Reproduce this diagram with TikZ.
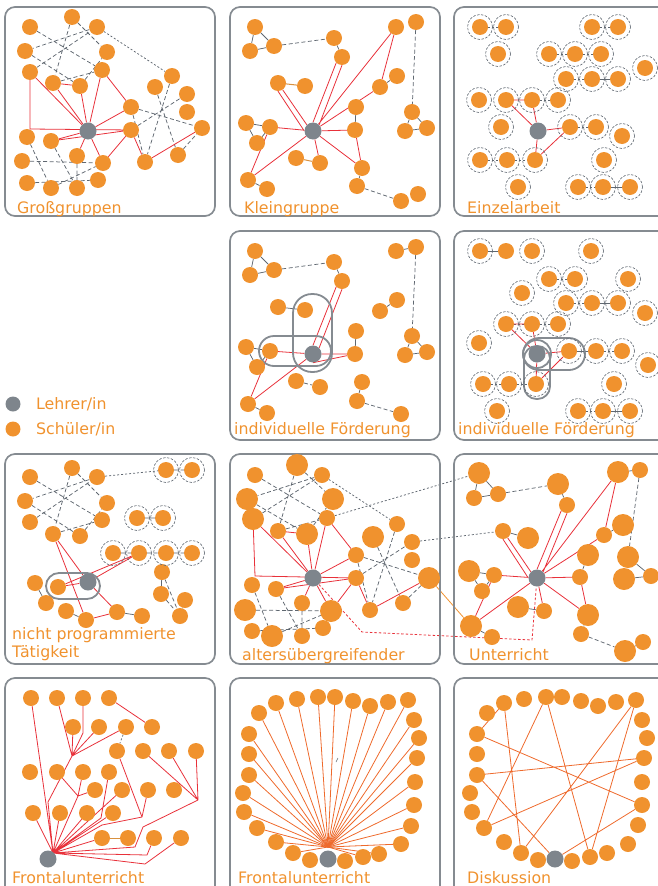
\documentclass[tikz,border=0pt]{standalone}
\usepackage{fontspec}
\setmainfont{DejaVu Sans}
\usetikzlibrary{backgrounds}
\definecolor{orng}{HTML}{F0922E}
\definecolor{tgray}{HTML}{7E858C}
\definecolor{fgray}{HTML}{858B91}
\definecolor{lred}{HTML}{E8313A}
\definecolor{dgray}{HTML}{5F6770}
\definecolor{olc}{HTML}{EE6A2C}
\definecolor{brn}{HTML}{D9913F}
% line sets that repeat
\newcommand\GGtop[1]{\draw[gd] (#1a1)--(#1a7) (#1a3)--(#1a4) (#1a2)--(#1a8) (#1a2)--(#1a5) (#1a6)--(#1a3) (#1a8)--(#1a7) (#1a9)--(#1a5) (#1a4)--(#1a9);}
\newcommand\GGright[1]{\draw[gd] (#1b1)--(#1b7) (#1b2)--(#1b6) (#1c1)--(#1b5) (#1c2)--(#1b3) (#1c1)--(#1b7) (#1b6)--(#1b5); \draw[gdot] (#1a3)--(#1b1);}
\newcommand\GGbot[1]{\draw[gd] (#1d1)--(#1d7) (#1d2)--(#1d8) (#1d3)--(#1d5) (#1d6)--(#1d9) (#1d7)--(#1d5) (#1d4)--(#1d8);}
\newcommand\GGred[1]{\draw[rl] (#1a6)--(#1k1)--(#1c2) (#1a6)--(#1T) (#1a8)--(#1a9) (#1a8)--(#1T) (#1a9)--(#1T) (#1a7)--(#1T) (#1a7)--(#1c1) (#1c1)--(#1T) (#1T)--(#1d5) (#1c2)--(#1d5) (#1T)--(#1d4) (#1d2)--(#1c2) (#1T)--(#1d2) (#1c2)--(#1b7) (#1b7)--(#1b5);}
\newcommand\KGgray[1]{\draw[gs] (#1g1)--(#1g2) (#1g2)--(#1g3) (#1g1)--(#1g3) (#1h1)--(#1h2) (#1j1)--(#1j2) (#1l1)--(#1l2) (#1m1)--(#1m2) (#1m2)--(#1m3) (#1m1)--(#1m3) (#1n1)--(#1n2) (#1n2)--(#1n3) (#1n1)--(#1n3) (#1p1)--(#1p2) (#1q1)--(#1q2);
 \draw[gd] (#1g3)--(#1h1) (#1i2)--(#1n1) (#1p2)--(#1r1);}
\newcommand\KGred[1]{\draw[rl] (#1T.north)--(#1h2.south west) (#1T.north east)--(#1h2.south) (#1T)--(#1i1) (#1T)--(#1j2) (#1j2)--(#1i1) (#1T.north west)--(#1k1) (#1T.west)--(#1k1.south) (#1T)--(#1m2) (#1m2)--(#1q1) (#1T)--(#1q1) (#1T)--(#1l2) (#1l2)--(#1p1) (#1T)--(#1p1) (#1T)--(#1o2);}
\begin{document}
\begin{tikzpicture}[x=1pt,y=-1pt,
  stu/.style={circle,fill=orng,inner sep=0pt,minimum size=16pt},
  big/.style={circle,fill=orng,inner sep=0pt,minimum size=22pt},
  tch/.style={circle,fill=tgray,inner sep=0pt,minimum size=17pt},
  frm/.style={draw=fgray,line width=1.7pt,rounded corners=10pt},
  rl/.style={draw=lred,line width=0.8pt},
  rld/.style={draw=lred,line width=0.8pt,dash pattern=on 2.5pt off 2pt},
  gd/.style={draw=dgray,line width=0.75pt,dash pattern=on 4pt off 2.5pt},
  gdot/.style={draw=dgray,line width=0.75pt,dash pattern=on 2pt off 2pt},
  gs/.style={draw=dgray,line width=0.75pt},
  bl/.style={draw=brn,line width=1pt},
  ol/.style={draw=olc,line width=0.8pt},
  ringc/.style={draw=dgray,line width=0.6pt,dash pattern=on 2.5pt off 1.5pt},
  pill/.style={draw=fgray,line width=1.8pt},
  lbl/.style={text=orng,font=\fontsize{15.8}{18}\selectfont,anchor=base west,inner sep=0pt},
]
\useasboundingbox (0,0) rectangle (658,886);
% ---------- frames ----------
\draw[frm] (5,7) rectangle (215,216);
\draw[frm] (230,7) rectangle (440,216);
\draw[frm] (454,7) rectangle (672,216);
\draw[frm] (230,231) rectangle (440,440);
\draw[frm] (454,231) rectangle (672,440);
\draw[frm] (5,454) rectangle (215,664);
\draw[frm] (230,454) rectangle (440,664);
\draw[frm] (454,454) rectangle (672,664);
\draw[frm] (5,678) rectangle (215,896);
\draw[frm] (230,678) rectangle (440,896);
\draw[frm] (454,678) rectangle (672,896);
% ---------- pills ----------
\draw[pill,rounded corners=19pt] (293,294) rectangle (332,372);
\draw[pill,rounded corners=15pt] (259,336) rectangle (331,366);
\draw[pill,rounded corners=16pt] (523,338) rectangle (585,370);
\draw[pill,rounded corners=12.5pt] (524,346) rectangle (550,399);
\draw[pill] (537,354) circle (14pt);
\draw[pill,rounded corners=13pt] (46,573) rectangle (100,599);

% ---------- panel 1: Grossgruppen ----------
\foreach \n/\x/\y in {a1/30/27,a2/72/17,a3/97/27,a4/25/51,a5/107/52,a6/30/72,a7/102/70,a8/53/83,a9/80/86,c1/131/107,c2/131/130,b1/172/76,b2/155/87,b3/187/94,b4/187/112,b5/202/128,b6/178/155,b7/145/162,d1/27/137,d2/51/141,d3/22/161,d4/77/156,d5/103/163,d6/27/183,d7/51/188,d8/77/188,d9/98/180}{\node[stu] (A\n) at (\x,\y) {};}
\node[tch] (AT) at (88,131) {};
\coordinate (Ak1) at (30,129);

% ---------- panel 2: Kleingruppe ----------
\foreach \n/\x/\y in {g1/255/27,g2/250/51,g3/274/46,h1/334/38,h2/342/57,i1/396/27,i2/416/22,j1/397/76,j2/380/87,k1/278/83,k2/305/86,l1/356/107,l2/355/130,m1/246/123,m2/270/127,m3/257/143,n1/412/112,n2/405/131,n3/427/128,o1/296/158,o2/320/163,p1/362/168,p2/357/186,q1/248/180,q2/267/189,r1/401/201,r2/418/194}{\node[stu] (B\n) at (\x,\y) {};}
\node[tch] (BT) at (313,131) {};

% ---------- panel 3: Einzelarbeit ----------
\foreach \n/\x/\y in {1/480/27,2/506/27,3/592/27,4/618/27,5/498/54,6/549/54,7/575/54,8/601/54,9/645/68,10/566/79,11/592/79,12/618/79,13/479/100,14/506/100,15/532/100,16/558/100,17/501/127,18/570/127,19/596/127,20/622/136,21/480/160,22/507/160,23/535/160,24/604/160,25/518/187,26/578/187,27/603/187,28/630/187}{\node[stu] (Cs\n) at (\x,\y) {};}
\node[tch] (CT) at (538,131) {};
\foreach \n in {1,...,28}{\draw[ringc] (Cs\n.center) circle (12.5pt);}

% ---------- panel 4: individuelle Foerderung ----------
\foreach \n/\x/\y in {g1/255/251,g2/250/275,g3/274/270,h1/334/262,h2/342/281,i1/396/251,i2/416/247,j1/397/300,j2/380/311,k1/278/307,k2/305/310,l1/356/331,l2/355/354,m1/246/347,m2/270/351,m3/257/367,n1/412/336,n2/405/355,n3/427/352,o1/296/381,o2/320/387,p1/362/382,p2/357/401,q1/248/404,q2/267/413,r1/401/414}{\node[stu] (D\n) at (\x,\y) {};}
\node[tch] (DT) at (313,354) {};

% ---------- panel 5: individuelle Foerderung ----------
\foreach \n/\x/\y in {1/480/251,2/506/251,3/532/251,4/591/251,5/549/279,6/575/279,7/628/279,8/522/293,9/566/303,10/592/303,11/618/303,12/645/313,13/506/324,14/532/324,15/558/324,16/479/343,17/569/351,18/596/351,19/622/351,20/648/365,21/483/384,22/509/384,23/536/384,24/614/384,25/497/411,26/578/411,27/603/411,28/630/411}{\node[stu] (E\n) at (\x,\y) {};}
\node[tch] (ET) at (537,354) {};
\foreach \n in {1,3,4,5,6,7,8,9,10,11,12,13,14,15,16,17,18,19,20,21,22,23,24,25,26,27,28}{\draw[ringc] (E\n.center) circle (12.5pt);}

% ---------- legend ----------
\node[tch,minimum size=15pt] (lg1) at (13,404) {};
\node[stu,minimum size=15pt] (lg2) at (13,429) {};
\node[lbl] (lt1) at (36,409) {Lehrer/in};
\node[lbl] (lt2) at (36,434) {Schüler/in};

% ---------- panel 7: nicht programmierte Taetigkeit ----------
\foreach \n/\x/\y in {a1/30/477,a2/72/468,a3/97/477,a4/25/501,a5/107/503,a6/30/522,a7/102/520,a8/53/534,a9/80/536,r1/166/470,r2/192/470,r3/137/518,r4/163/518,r5/113/553,r6/139/553,r7/166/553,r8/192/553,u1/162/572,u2/161/594,u3/185/600,u4/180/616,v1/35/583,v2/58/587,v3/46/603,v4/66/611,v5/86/620,v6/117/612,v7/142/616}{\node[stu] (G\n) at (\x,\y) {};}
\node[tch] (GT) at (88,582) {};
\foreach \n in {1,...,8}{\draw[ringc] (Gr\n.center) circle (12.5pt);}

% ---------- panel 8: altersuebergreifender ----------
\foreach \n/\x/\y in {a1/255/475,a3/322/475,a7/327/518,a8/278/531,c1/356/555,c2/356/578,b1/397/524,b3/412/542,b4/412/560,b6/403/603,b7/370/610,d1/252/585,d2/276/589,d4/302/603,d6/252/631,d8/302/636,d9/323/628}{\node[stu] (H\n) at (\x,\y) {};}
\foreach \n/\x/\y in {a2/297/465,a4/247/499,a5/333/499,a6/253/519,a9/307/534,b2/373/537,b5/429/578,d3/245/610,d5/331/611,d7/272/636}{\node[big] (H\n) at (\x,\y) {};}
\node[tch] (HT) at (313,578) {};
\coordinate (Hk1) at (255,576);

% ---------- panel 9: Unterricht ----------
\foreach \n/\x/\y in {g2/474/498,g3/498/494,h2/567/505,i2/640/470,j2/604/535,k1/503/531,l2/580/577,m2/494/575,m3/482/591,n3/651/576,o2/544/611,p2/581/634,q2/492/637,r2/643/642}{\node[stu] (I\n) at (\x,\y) {};}
\foreach \n/\x/\y in {g1/479/473,h1/558/484,i1/618/472,j1/623/525,k2/528/538,l1/588/555,m1/469/571,n1/628/557,n2/624/579,o1/518/607,p1/588/615,q1/471/626,r1/625/651}{\node[big] (I\n) at (\x,\y) {};}
\node[tch] (IT) at (537,578) {};

% ---------- panel 10: Frontalunterricht ----------
\foreach \n/\x/\y in {a1/31/698,a2/57/698,a3/83/698,a4/109/698,b1/73/727,b2/99/727,b3/126/727,b4/152/727,c1/117/751,c2/143/751,c3/169/751,c4/196/751,d1/30/772,d2/57/772,d3/83/772,d4/109/772,e1/95/790,e2/122/790,e3/148/790,e4/174/790,f1/33/813,f2/60/813,f3/87/813,f4/113/813,g1/102/838,g2/128/838,g3/154/838,g4/181/838}{\node[stu] (J\n) at (\x,\y) {};}
\node[tch] (JT) at (48,859) {};
\coordinate (Jtp) at (53,853);
\coordinate (JH1) at (72,756);
\coordinate (Jk1) at (83,733);
\coordinate (Jk2) at (48,802);
\coordinate (JH4) at (78,796);
\coordinate (Jk3) at (101,818);
\coordinate (JH3) at (142,817);
\coordinate (Jk4) at (102,825);
\coordinate (JH2) at (198,800);
\coordinate (Jk5) at (143,827);
\coordinate (Jk6) at (135,847);
\coordinate (Jk7) at (145,864);
\coordinate (Jk8) at (147,855);

% ---------- panel 11: Frontalunterricht ----------
\foreach \n/\x/\y in {1/293/853,2/276/842,3/257/828,4/244/812,5/243/793,6/249/775,7/249/754,8/249/734,9/259/713,10/276/703,11/297/699,12/318/697,13/335/697,14/353/701,15/370/706,16/388/702,17/408/700,18/414/720,19/419/738,20/417/758,21/415/782,22/414/805,23/411/826,24/401/844,25/379/854,26/363/857,27/310/860,28/345/861}{\node[stu] (K\n) at (\x,\y) {};}
\node[tch] (KT) at (328,859) {};
\coordinate (Khub) at (328,847);

% ---------- panel 12: Diskussion ----------
\foreach \n/\x/\y in {1/504/703,2/524/699,3/546/697,4/562/697,5/581/701,6/598/706,7/616/702,8/636/700,9/642/720,10/647/738,11/644/758,12/642/782,13/642/805,14/638/825,15/628/844,16/607/853,17/590/857,18/572/861,19/538/860,20/521/853,21/504/842,22/484/828,23/472/812,24/470/793,25/477/775,26/477/754,27/477/734,28/487/713}{\node[stu] (L\n) at (\x,\y) {};}
\node[tch] (LT) at (555,859) {};

% ---------- labels ----------
\node[lbl] (t1) at (17,213) {Großgruppen};
\node[lbl] (t2) at (244,213) {Kleingruppe};
\node[lbl] (t3) at (467,213) {Einzelarbeit};
\node[lbl] (t4) at (234,434) {individuelle Förderung};
\node[lbl] (t5) at (458,434) {individuelle Förderung};
\node[lbl] (t7a) at (12,639) {nicht programmierte};
\node[lbl] (t7b) at (12,657) {Tätigkeit};
\node[lbl] (t8) at (242,660) {altersübergreifender};
\node[lbl] (t9) at (469,660) {Unterricht};
\node[lbl] (t10) at (12,883) {Frontalunterricht};
\node[lbl] (t11) at (238,883) {Frontalunterricht};
\node[lbl] (t12) at (467,883) {Diskussion};

% ================= connectors (behind nodes) =================
\begin{pgfonlayer}{background}
% panel 1
\GGtop{A}\GGright{A}\GGbot{A}\GGred{A}
% panel 2
\KGgray{B}\KGred{B}
\draw[bl] (Bk1)--(Bk2) (Bo1)--(Bo2);
% panel 3
\draw[gs] (Cs11)--(Cs12) (Cs27)--(Cs28);
\draw[gdot] (Cs1)--(Cs2) (Cs3)--(Cs4) (Cs6)--(Cs7) (Cs7)--(Cs8) (Cs10)--(Cs11) (Cs15)--(Cs16) (Cs18)--(Cs19) (Cs21)--(Cs22) (Cs22)--(Cs23) (Cs26)--(Cs27);
\draw[rl] (Cs14)--(Cs15) (Cs14)--(CT) (Cs15)--(CT) (CT)--(Cs18) (Cs18)--(Cs23) (CT)--(Cs23);
% panel 4
\KGgray{D}
\draw[gs] (Di1)--(Di2) (Dk1)--(Dk2);
\draw[gd] (Do1)--(Do2);
\draw[rl] (DT.north)--(Dh2.south west) (DT.north east)--(Dh2.south) (DT)--(Dm2) (Dm2)--(Dq1) (DT)--(Dq1) (DT)--(Dl2) (DT.south)--(Dl2);
% panel 5
\draw[gs] (E1)--(E2) (E10)--(E11) (E17)--(E18) (E27)--(E28);
\draw[gdot] (E5)--(E6) (E9)--(E10) (E13)--(E14) (E14)--(E15) (E18)--(E19) (E21)--(E22) (E22)--(E23) (E26)--(E27);
\draw[rl] (E13)--(E14) (E13)--(ET) (E14)--(ET) (ET)--(E17) (E17)--(E23) (ET)--(E23);
% panel 7
\GGtop{G}
\draw[gdot] (Ga3)--(Gr1);
\draw[gs] (Gr3)--(Gr4) (Gv1)--(Gv3) (Gv4)--(Gv5) (Gv6)--(Gv7) (Gu1)--(Gu2) (Gu3)--(Gu4);
\draw[gd] (Gu1)--(Gu4) (Gu2)--(Gu4) (Gr1)--(Gr2) (Gr5)--(Gr6) (Gr6)--(Gr7) (Gr7)--(Gr8);
\draw[rl] (Ga8)--(GT) (Ga8)--(Gv5) (Gv2)--(Gr6) (GT)--(Gr6) (Gv2)--(GT) (GT)--(Gv6) (Gv5)--(Gv6);
% panel 8
\GGtop{H}\GGright{H}\GGbot{H}\GGred{H}
% panel 9
\KGgray{I}\KGred{I}
\draw[gs] (Ik1)--(Ik2) (Io1)--(Io2) (Ir1)--(Ir2) (Ii1)--(Ii2);
% between panels 8 and 9
\draw[gdot] (Ha7)--(Ig1) (Hb3)--(Ik1);
\draw[draw=orng,line width=0.8pt] (Hb5)--(Iq1);
\coordinate (X1) at (362,632);
\coordinate (X2) at (532,640);
\draw[rld] (HT)--(X1)--(X2)--(IT);
% panel 10
\draw[rl] (Ja1)--(Jtp) (Ja2)--(JH1) (Ja3)--(Jk1)--(JH1) (Jb1)--(JH1) (Jb2)--(JH1) (Jb3)--(JH1) (JH1)--(Jk2)--(Jtp) (Ja4)--(Jb4)
  (Jd2)--(JH4) (Jd3)--(JH4) (Je1)--(JH4) (JH4)--(Jtp) (Jd4)--(Jk3)--(Jtp) (Je2)--(Jtp)
  (Jc1)--(JH3) (Je3)--(JH3) (JH3)--(Jk4)--(Jtp) (Jc2)--(JH2) (Jc3)--(JH2) (Jc4)--(JH2) (JH2)--(Jk5)--(Jk6)--(Jtp)
  (Jf1)--(Jtp) (Jf2)--(Jtp) (Jf3)--(Jtp) (Jf4)--(Jtp) (Jg1)--(Jtp) (Jtp)--(Jk7)--(Jg4) (Jtp)--(Jk8)--(Jg3);
\draw[gdot] (Jb3)--(Jc1);
\draw[bl] (Jg1)--(Jg2);
% panel 11
\foreach \n in {1,...,26}{\draw[ol] (Khub)--(K\n);}
\coordinate (Km1) at (336,762);
\coordinate (Km2) at (338,758);
\draw[gs,line width=0.5pt] (Km1)--(Km2);
% panel 12
\draw[ol] (L27)--(L1) (L1)--(L20) (L3)--(L22) (L3)--(L17) (L27)--(L13) (L25)--(L11) (L25)--(LT) (L22)--(L11) (L8)--(L20) (L8)--(L17) (LT)--(L13);
\end{pgfonlayer}
\end{tikzpicture}
\end{document}
